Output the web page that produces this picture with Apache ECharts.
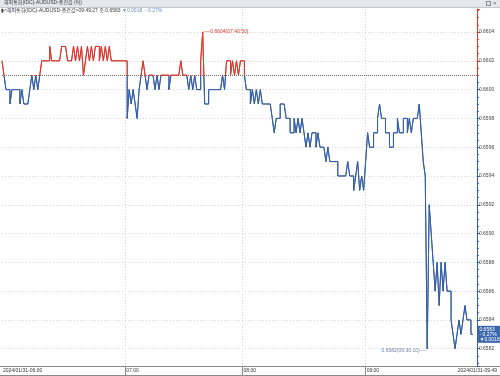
<!DOCTYPE html>
<html><head><meta charset="utf-8">
<script src="https://cdn.jsdelivr.net/npm/echarts@6/dist/echarts.min.js"></script>
<style>html,body{margin:0;padding:0;background:#fff}#c{width:500px;height:376px}</style>
</head><body><div id="c"></div>
<script>
// ---- data ----
const titleBar = '해외통화(IDC)-AUDUSD-중간값 (틱)';
const infoName = '<해외통화(IDC)-AUDUSD-중간값>';
const lastTime = '09:49:27';
const prevClose = 0.6601;
const yMin = 0.65808, yMax = 0.66056;
const yTickStep = 0.0002;
const totalSlots = 240;
const hourLabels = [[0, '2024/01/31-06:00'], [62, '07:00'], [121, '08:00'], [183, '09:00'], [239, '2024/01/31-09:49']];
const maxTime = '07:40:50';
const minTime = '09:30:10';
const prices = [
  0.6602,0.6601,0.6600,0.6600,0.6599,0.6600,0.6600,0.6600,0.6600,0.6599,
  0.6600,0.6599,0.6599,0.6599,0.6600,0.6601,0.6600,0.6601,0.6600,0.6601,
  0.6602,0.6602,0.6602,0.6602,0.6603,0.6602,0.6602,0.6602,0.6602,0.6602,
  0.6603,0.6603,0.6603,0.6602,0.6602,0.6602,0.6603,0.6602,0.6603,0.6602,
  0.6603,0.6601,0.6602,0.6603,0.6602,0.6603,0.6602,0.6603,0.6603,0.6602,
  0.6603,0.6602,0.6603,0.6602,0.6603,0.6602,0.6602,0.6602,0.6602,0.6602,
  0.6602,0.6602,0.6602,0.6598,0.6600,0.6599,0.6600,0.6599,0.6598,0.6600,
  0.6601,0.6602,0.6601,0.6600,0.6601,0.6601,0.6601,0.6600,0.6601,0.6600,
  0.6601,0.6601,0.6601,0.6601,0.6600,0.6601,0.6601,0.6601,0.6601,0.6601,
  0.6602,0.6601,0.6601,0.6601,0.6600,0.6601,0.6600,0.6601,0.6600,0.6600,
  0.6602,0.6604,0.6599,0.6599,0.6600,0.6600,0.6600,0.6600,0.6600,0.6600,
  0.6600,0.6601,0.6600,0.6602,0.6602,0.6601,0.6602,0.6601,0.6602,0.6601,
  0.6602,0.6602,0.6601,0.6600,0.6600,0.6599,0.6600,0.6599,0.6600,0.6599,
  0.6600,0.6599,0.6599,0.6599,0.6599,0.6599,0.6598,0.6597,0.6598,0.6598,
  0.6599,0.6599,0.6599,0.6598,0.6598,0.6597,0.6597,0.6598,0.6597,0.6598,
  0.6597,0.6598,0.6597,0.6596,0.6597,0.6596,0.6597,0.6597,0.6596,0.6597,
  0.6596,0.6596,0.6596,0.6595,0.6596,0.6595,0.6595,0.6595,0.6595,0.6594,
  0.6594,0.6594,0.6594,0.6594,0.6595,0.6594,0.6594,0.6593,0.6594,0.6595,
  0.6593,0.6594,0.6593,0.6595,0.6597,0.6596,0.6596,0.6597,0.6597,0.6598,
  0.6599,0.6598,0.6598,0.6597,0.6597,0.6596,0.6596,0.6597,0.6597,0.6598,
  0.6597,0.6597,0.6598,0.6598,0.6597,0.6598,0.6597,0.6598,0.6598,0.6598,
  0.6599,0.6597,0.6595,0.6594,0.6582,0.6592,0.6590,0.6588,0.6586,0.6588,
  0.6585,0.6588,0.6586,0.6588,0.6586,0.6586,0.6584,0.6583,0.6582,0.6583,
  0.6584,0.6583,0.6584,0.6585,0.6584,0.6584,0.6583
];

// ---- derived ----
const RED = '#d8392e', BLUE = '#345ea6';
const FONT = "'Liberation Sans','Noto Sans CJK KR',sans-serif";
const labelMap = new Map(hourLabels);
const cats = Array.from({length: totalSlots}, (_, i) => String(i));
const seriesData = cats.map((_, i) => i < prices.length ? prices[i] : null);
const maxVal = Math.max(...prices), minVal = Math.min(...prices);
const maxIdx = prices.indexOf(maxVal), minIdx = prices.indexOf(minVal);
const lastIdx = prices.length - 1, lastVal = prices[lastIdx];
const chg = lastVal - prevClose;
const chgPct = chg / prevClose * 100;
const chgStr = (chg < 0 ? '▼' : '▲') + Math.abs(chg).toFixed(4);
const pctStr = (chgPct < 0 ? '- ' : '+ ') + Math.abs(chgPct).toFixed(2) + '%';

const chart = echarts.init(document.getElementById('c'), null, {renderer: 'canvas'});
const option = {
  animation: false,
  backgroundColor: '#fff',
  textStyle: {fontFamily: FONT},
  title: [
    {text: titleBar, left: 4, top: 0.5, padding: 0, textStyle: {fontSize: 5, fontWeight: 'normal', color: '#3c3c46', fontFamily: FONT}},
    {text: '{k|▮}{a|' + infoName + lastTime + ' 종:' + lastVal.toFixed(4) + ' }{b|' + chgStr + '  ' + pctStr + '}',
     left: 1, top: 8, padding: 0,
     textStyle: {fontSize: 5, fontWeight: 'normal', fontFamily: FONT,
       rich: {k: {fontSize: 5, color: '#333'}, a: {fontSize: 5, color: '#3a3a44', fontFamily: FONT}, b: {fontSize: 5, color: '#6d8cc4', fontFamily: FONT}}}}
  ],
  graphic: [
    {type: 'rect', z: -1, shape: {x: 0, y: 0, width: 500, height: 7}, style: {fill: '#e5e7ea'}},
    {type: 'line', shape: {x1: 0, y1: 7.5, x2: 500, y2: 7.5}, style: {stroke: '#c5c8cc', lineWidth: 1}},
    {type: 'rect', shape: {x: 486.5, y: 1.5, width: 4, height: 4}, style: {fill: 'none', stroke: '#6a6f78', lineWidth: 0.8}},
    {type: 'text', style: {x: 493, y: 0.5, text: '×', fontSize: 6, fill: '#6a6f78', fontFamily: FONT}},
    {type: 'line', shape: {x1: 0, y1: 366.5, x2: 500, y2: 366.5}, style: {stroke: '#8a8a8a', lineWidth: 1}},
    {type: 'line', shape: {x1: 0, y1: 375.5, x2: 500, y2: 375.5}, style: {stroke: '#8a8a8a', lineWidth: 1}}
  ],
  grid: {left: 0, right: 23, top: 9, bottom: 10, containLabel: false},
  xAxis: {
    type: 'category', data: cats, boundaryGap: false,
    axisLine: {show: true, lineStyle: {color: '#8a8a8a'}},
    axisTick: {show: true, length: 9, interval: (i) => labelMap.has(i) && i > 0 && i < totalSlots - 1, lineStyle: {color: '#8a8a8a'}},
    axisLabel: {
      interval: (i) => labelMap.has(i), formatter: (v, i) => labelMap.get(i) || '',
      align: 'left', alignMaxLabel: 'center', fontSize: 5, color: '#333', margin: 2.5, padding: [0, 0, 0, 1], fontFamily: FONT
    },
    splitLine: {show: true, interval: (i) => labelMap.has(i) && i > 0 && i < totalSlots - 1, lineStyle: {color: '#d3d3d3', type: [1, 2]}}
  },
  yAxis: {
    type: 'value', position: 'right', min: yMin, max: yMax,
    minInterval: yTickStep, maxInterval: yTickStep, splitNumber: 12,
    axisLine: {show: true, lineStyle: {color: BLUE, width: 1}},
    axisTick: {show: true, length: 3, lineStyle: {color: BLUE}},
    minorTick: {show: true, splitNumber: 4, length: 2, lineStyle: {color: BLUE}},
    axisLabel: {fontSize: 5, color: '#444', margin: 2, showMinLabel: false, showMaxLabel: false, formatter: (v) => v.toFixed(4), fontFamily: FONT},
    splitLine: {show: true, showMinLine: false, showMaxLine: false, lineStyle: {color: '#d6d6d6', type: [1, 2]}}
  },
  series: [{
    type: 'line', data: seriesData, step: 'end', showSymbol: false, symbol: 'none', z: 3,
    lineStyle: {width: 1, color: BLUE},
    markLine: {
      silent: true, symbol: 'none', label: {show: false}, precision: 6, z: 1,
      lineStyle: {color: '#6e6e6e', type: [1, 1], width: 1},
      data: [{yAxis: prevClose}]
    },
    markPoint: {
      silent: true, z: 4,
      data: [
        {coord: [maxIdx, maxVal], symbol: 'rect', symbolSize: [1, 1], itemStyle: {color: 'rgba(0,0,0,0)'},
         label: {show: true, position: 'right', distance: 0, formatter: '──' + maxVal.toFixed(4) + '(' + maxTime + ')', color: RED, fontSize: 5, fontFamily: FONT}},
        {coord: [minIdx, minVal], symbol: 'rect', symbolSize: [1, 1], itemStyle: {color: 'rgba(0,0,0,0)'},
         label: {show: true, position: 'left', distance: 0, offset: [0, 2], formatter: minVal.toFixed(4) + '(' + minTime + ')──', color: '#6f84a8', fontSize: 5, fontFamily: FONT}},
        {coord: [lastIdx, lastVal], symbol: 'rect', symbolSize: [1, 1], itemStyle: {color: 'rgba(0,0,0,0)'},
         label: {show: true, position: 'right', distance: 6, formatter: lastVal.toFixed(4) + '\n' + pctStr + '\n' + chgStr,
           color: '#fff', backgroundColor: '#3d67ad', padding: [1, 2, 1, 2], lineHeight: 5, fontSize: 5, fontFamily: FONT, align: 'left'}}
      ]
    }
  }]
};
chart.setOption(option);

// red at/above the previous close, blue below: split position taken from the axis scale
const refY = chart.convertToPixel({yAxisIndex: 0}, prevClose);
const H = 376;
const f = Math.max(0, Math.min(1, (refY + 1.2) / H));
const mkGrad = () => new echarts.graphic.LinearGradient(0, 0, 0, H, [
  {offset: 0, color: RED}, {offset: f, color: RED}, {offset: f, color: BLUE}, {offset: 1, color: BLUE}
], true);
chart.setOption({
  yAxis: {axisLine: {lineStyle: {color: mkGrad()}}, axisTick: {lineStyle: {color: mkGrad()}}, minorTick: {lineStyle: {color: mkGrad()}}},
  series: [{lineStyle: {color: mkGrad()}}]
});
</script></body></html>
